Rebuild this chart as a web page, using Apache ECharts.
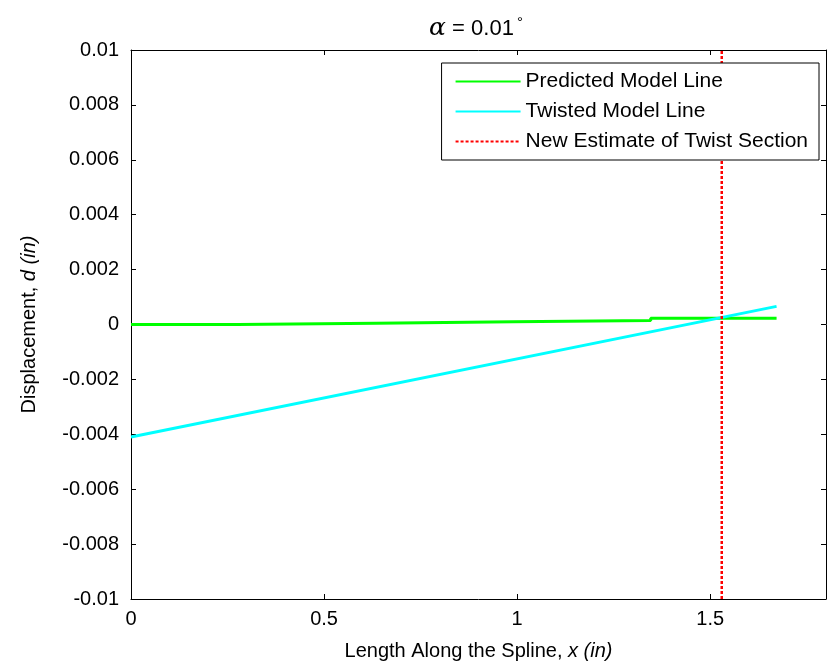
<!DOCTYPE html>
<html><head><meta charset="utf-8">
<script src="https://cdn.jsdelivr.net/npm/echarts@6/dist/echarts.min.js"></script>
<style>html,body{margin:0;padding:0;background:#fff}#c{width:827px;height:669px}</style>
</head><body><div id="c"></div>
<script>
// Predicted model line (stepped)
const predX = [0, 0.277, 0.635, 0.99, 1.346, 1.672];
const predY = [0, 0.00005, 0.0001, 0.00015, 0.00023, 0.00023];
// Twisted model line
const twistX = [0, 1.672];
const twistY = [-0.0041, 0.00066];
// New estimate of twist section (vertical)
const estX = [1.53, 1.53];
const estY = [-0.01, 0.01];
const seriesNames = ['Predicted Model Line', 'Twisted Model Line', 'New Estimate of Twist Section'];

const zip = (a, b) => a.map((v, i) => [v, b[i]]);
const FONT = 'Liberation Sans, Arial, sans-serif';
const chart = echarts.init(document.getElementById('c'));
const xBase = {type: 'value', min: 0, max: 1.8, interval: 0.5, splitLine: {show: false},
  axisLine: {onZero: false, lineStyle: {color: '#000', width: 1}},
  axisTick: {inside: true, length: 5, lineStyle: {color: '#000'}}};
const yBase = {type: 'value', min: -0.01, max: 0.01, interval: 0.002, splitLine: {show: false},
  axisLine: {onZero: false, lineStyle: {color: '#000', width: 1}},
  axisTick: {inside: true, length: 5, lineStyle: {color: '#000'}}};
chart.setOption({
  animation: false,
  backgroundColor: '#fff',
  title: {
    text: '{i|α} = 0.01{s|°}', left: 471, top: 10, textAlign: 'center',
    textStyle: {fontFamily: FONT, fontSize: 22, fontWeight: 'normal', color: '#000',
      rich: {i: {fontFamily: 'DejaVu Serif, serif', fontStyle: 'italic', fontSize: 25},
             s: {fontSize: 15, verticalAlign: 'top', padding: [0, 0, 12, 3]}}}
  },
  grid: {left: 131, top: 50, right: 1, bottom: 70},
  legend: {
    orient: 'vertical', right: 8, top: 63, backgroundColor: '#fff',
    borderColor: '#000', borderWidth: 1, padding: [8, 11, 8, 13], itemGap: 9,
    itemWidth: 65, itemHeight: 14,
    itemStyle: {opacity: 0},
    textStyle: {fontFamily: FONT, fontSize: 21, color: '#000'},
    data: seriesNames
  },
  xAxis: [
    Object.assign({}, xBase, {position: 'bottom',
      name: 'Length Along the Spline, {i|x (in)}', nameLocation: 'middle', nameGap: 42,
      nameTextStyle: {fontFamily: FONT, fontSize: 20, color: '#000',
        rich: {i: {fontFamily: FONT, fontStyle: 'italic', fontSize: 20}}},
      axisLabel: {showMaxLabel: false, fontFamily: FONT, fontSize: 20, color: '#000', margin: 10}}),
    Object.assign({}, xBase, {position: 'top', axisLabel: {show: false}})
  ],
  yAxis: [
    Object.assign({}, yBase, {position: 'left',
      name: 'Displacement, {i|d (in)}', nameLocation: 'middle', nameGap: 92, nameRotate: 90,
      nameTextStyle: {fontFamily: FONT, fontSize: 20, color: '#000',
        rich: {i: {fontFamily: FONT, fontStyle: 'italic', fontSize: 20}}},
      axisLabel: {fontFamily: FONT, fontSize: 20, color: '#000', margin: 12,
        formatter: v => String(+v.toFixed(4))}}),
    Object.assign({}, yBase, {position: 'right', axisLabel: {show: false}})
  ],
  series: [
    {name: seriesNames[0], type: 'line', step: 'end', data: zip(predX, predY), showSymbol: false,
      symbol: 'none', lineStyle: {color: '#00ff00', width: 3}, itemStyle: {color: '#00ff00'}},
    {name: seriesNames[1], type: 'line', data: zip(twistX, twistY), showSymbol: false,
      symbol: 'none', lineStyle: {color: '#00ffff', width: 3}, itemStyle: {color: '#00ffff'}},
    {name: seriesNames[2], type: 'line', data: zip(estX, estY), showSymbol: false,
      symbol: 'none', lineStyle: {color: '#ff0000', width: 2.5, type: [3, 2]}, itemStyle: {color: '#ff0000'}}
  ]
});
</script></body></html>
